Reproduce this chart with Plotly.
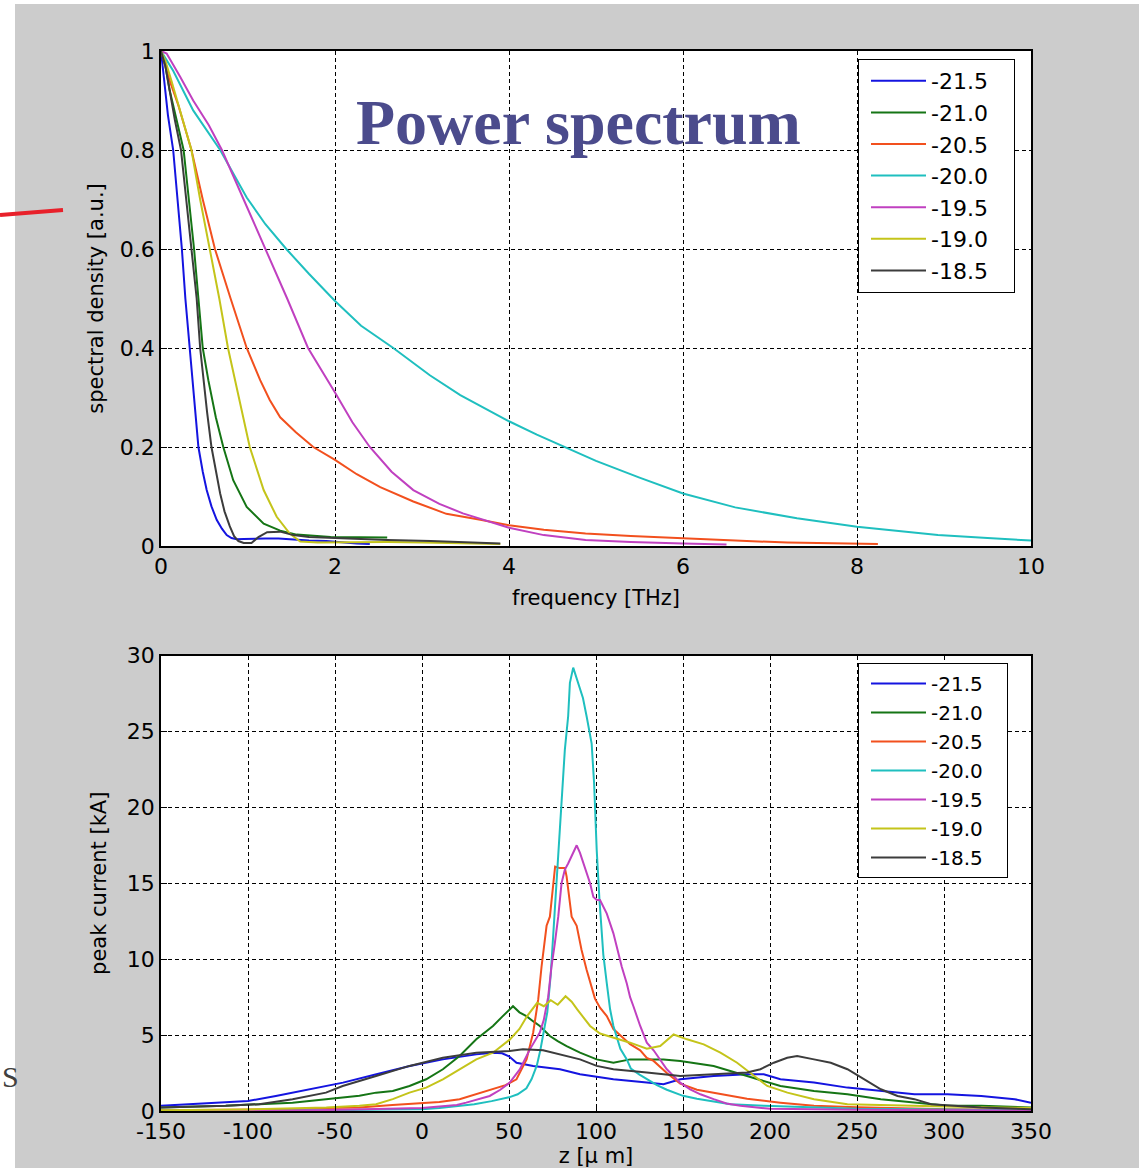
import plotly.graph_objects as go

# ---------------- data: power spectrum (top) ----------------
series_names = ["-21.5", "-21.0", "-20.5", "-20.0", "-19.5", "-19.0", "-18.5"]
series_colors = ["#1414e0", "#157515", "#f2501e", "#1fbfbf", "#c040c0", "#c4c41a", "#3c3c3c"]

f_m215 = [0, 0.04, 0.08, 0.14, 0.19, 0.24, 0.28, 0.33, 0.37, 0.43, 0.48, 0.525, 0.58, 0.64, 0.7, 0.755, 0.81, 0.87, 0.95, 1.07, 1.2, 1.35, 1.5, 1.7, 1.9, 2.1, 2.25, 2.4]
s_m215 = [1, 0.94, 0.87, 0.8, 0.7, 0.6, 0.5, 0.4, 0.335, 0.2, 0.15, 0.113, 0.08, 0.053, 0.035, 0.022, 0.016, 0.0135, 0.014, 0.015, 0.015, 0.015, 0.013, 0.011, 0.01, 0.007, 0.005, 0.004]

f_m210 = [0, 0.05, 0.1, 0.18, 0.26, 0.32, 0.38, 0.43, 0.48, 0.544, 0.63, 0.716, 0.83, 0.985, 1.18, 1.37, 1.56, 1.95, 2.3, 2.6]
s_m210 = [1, 0.97, 0.92, 0.86, 0.8, 0.7, 0.6, 0.5, 0.4, 0.335, 0.26, 0.2, 0.133, 0.079, 0.045, 0.031, 0.023, 0.018, 0.018, 0.017]

f_m205 = [0, 0.05, 0.1, 0.2, 0.35, 0.48, 0.62, 0.8, 0.985, 1.14, 1.25, 1.37, 1.55, 1.75, 2.0, 2.25, 2.52, 2.9, 3.28, 3.67, 4.0, 4.4, 4.88, 5.4, 6.0, 6.6, 7.2, 7.7, 8.24]
s_m205 = [1, 0.97, 0.94, 0.89, 0.8, 0.7, 0.6, 0.5, 0.4, 0.335, 0.295, 0.26, 0.23, 0.2, 0.174, 0.145, 0.119, 0.09, 0.065, 0.053, 0.042, 0.033, 0.025, 0.02, 0.015, 0.011, 0.007, 0.005, 0.004]

f_m200 = [0, 0.14, 0.37, 0.68, 0.985, 1.2, 1.44, 1.7, 2.0, 2.3, 2.67, 3.09, 3.44, 3.9, 4.0, 4.32, 4.64, 5.0, 5.5, 6.0, 6.6, 7.31, 8.0, 8.5, 8.93, 9.5, 10.0]
s_m200 = [1, 0.96, 0.88, 0.8, 0.704, 0.65, 0.6, 0.55, 0.495, 0.445, 0.4, 0.345, 0.305, 0.262, 0.252, 0.225, 0.2, 0.172, 0.138, 0.106, 0.078, 0.056, 0.039, 0.03, 0.022, 0.016, 0.011]

f_m195 = [0, 0.065, 0.22, 0.37, 0.55, 0.7, 0.95, 1.2, 1.45, 1.69, 1.9, 2.0, 2.2, 2.4, 2.65, 2.9, 3.2, 3.47, 4.0, 4.4, 4.88, 5.4, 6.0, 6.5]
s_m195 = [1, 0.995, 0.948, 0.9, 0.85, 0.8, 0.7, 0.6, 0.5, 0.4, 0.34, 0.31, 0.25, 0.2, 0.15, 0.113, 0.085, 0.066, 0.037, 0.022, 0.012, 0.008, 0.005, 0.003]

f_m190 = [0, 0.05, 0.12, 0.2, 0.28, 0.35, 0.45, 0.563, 0.67, 0.77, 0.85, 1.02, 1.18, 1.33, 1.48, 1.6, 1.8, 2.2, 2.6, 3.0, 3.5, 3.9]
s_m190 = [1, 0.98, 0.94, 0.89, 0.84, 0.8, 0.7, 0.6, 0.5, 0.4, 0.335, 0.2, 0.113, 0.059, 0.025, 0.009, 0.007, 0.008, 0.008, 0.007, 0.005, 0.004]

f_m185 = [0, 0.05, 0.1, 0.16, 0.23, 0.29, 0.35, 0.41, 0.45, 0.486, 0.53, 0.58, 0.63, 0.68, 0.73, 0.79, 0.84, 0.89, 0.95, 1.04, 1.12, 1.22, 1.37, 1.52, 1.7, 2.13, 2.6, 3.1, 3.5, 3.9]
s_m185 = [1, 0.97, 0.92, 0.86, 0.8, 0.7, 0.6, 0.5, 0.4, 0.335, 0.27, 0.2, 0.15, 0.106, 0.07, 0.04, 0.02, 0.01, 0.006, 0.006, 0.018, 0.028, 0.029, 0.022, 0.018, 0.015, 0.012, 0.01, 0.008, 0.005]

# ---------------- data: current profile (bottom) ----------------
z_m215 = [-150, -132, -112.8, -100, -84, -64.6, -45.4, -26.2, -7, 12, 31.2, 40.8, 46, 50, 54.3, 63.9, 79.3, 90.8, 110, 129.2, 138.8, 148.4, 167.6, 186.8, 196.4, 206, 225.3, 244.5, 263.7, 283, 302, 321.4, 340.6, 350]
i_m215 = [0.34, 0.45, 0.55, 0.66, 0.99, 1.43, 1.87, 2.42, 2.97, 3.4, 3.73, 3.84, 3.8, 3.6, 3.18, 2.97, 2.75, 2.42, 2.09, 1.87, 1.76, 2.09, 2.3, 2.42, 2.42, 2.09, 1.87, 1.54, 1.32, 1.1, 1.1, 0.99, 0.78, 0.55]

z_m210 = [-150, -112.8, -93.6, -74.4, -55.2, -36, -26.4, -16.8, -7.2, 2.4, 12, 21.6, 31.2, 40.8, 46, 52.3, 56, 60, 64, 67.7, 73.5, 78, 83.1, 90.8, 100.4, 110, 119.6, 129.2, 138.8, 148.4, 167.6, 186.8, 206, 225.3, 244.5, 263.7, 283, 302, 321.4, 350]
i_m210 = [0.23, 0.34, 0.45, 0.55, 0.78, 1.0, 1.21, 1.32, 1.65, 2.09, 2.75, 3.62, 4.72, 5.6, 6.2, 6.9, 6.5, 6.25, 5.9, 5.6, 4.94, 4.6, 4.28, 3.84, 3.4, 3.18, 3.4, 3.4, 3.4, 3.29, 2.96, 2.3, 1.65, 1.32, 1.1, 0.78, 0.55, 0.34, 0.34, 0.23]

z_m205 = [-150, -120, -100, -74, -55, -36, -17, 0, 10, 21.6, 31.2, 40.8, 48, 54.3, 60.1, 63.9, 66.8, 68.7, 71.6, 73.5, 75.4, 76.5, 79, 82.1, 83.1, 84, 86, 88.9, 91.7, 94.6, 97.5, 99.4, 102.3, 106.2, 110, 115, 119.6, 125.4, 129.2, 133.1, 140.7, 148.4, 158, 167.6, 177, 186.8, 206, 225.3, 250, 263.7, 302, 350]
i_m205 = [0.05, 0.08, 0.1, 0.12, 0.2, 0.23, 0.4, 0.5, 0.6, 0.78, 1.1, 1.43, 1.7, 2.09, 3.4, 5.17, 7.35, 9.5, 12.2, 12.8, 15.0, 16.1, 16.0, 16.0, 15.45, 14.6, 12.8, 12.2, 10.6, 9.3, 8.2, 7.4, 6.8, 6.25, 5.4, 4.9, 4.4, 4.0, 3.5, 3.3, 2.5, 1.8, 1.4, 1.2, 1.0, 0.8, 0.55, 0.34, 0.25, 0.22, 0.12, 0.08]

z_m200 = [-150, -100, -50, -20, 0, 10, 20, 30, 40, 45, 50, 55, 60, 63, 66, 68, 70, 72, 74, 76, 78.3, 80.2, 82.1, 84, 85, 86.9, 88.5, 90.8, 92.5, 94.6, 96, 97.5, 98.9, 100.4, 102, 104.2, 106.2, 108.1, 110, 112, 114, 117.7, 120, 125, 129.2, 135, 140.7, 150, 158, 168, 177.3, 196.5, 220, 250, 300, 350]
i_m200 = [0.02, 0.03, 0.05, 0.1, 0.12, 0.2, 0.32, 0.45, 0.65, 0.75, 0.9, 1.1, 1.5, 2.1, 3.0, 4.0, 5.3, 6.5, 9.0, 12.5, 17.2, 20.0, 23.8, 26.0, 28.2, 29.2, 28.6, 27.7, 27.2, 26.0, 25.2, 24.2, 21.6, 17.2, 13.9, 10.3, 8.4, 6.7, 5.6, 4.9, 4.1, 3.4, 2.8, 2.4, 2.1, 1.7, 1.4, 1.0, 0.8, 0.6, 0.45, 0.34, 0.25, 0.15, 0.1, 0.05]

z_m195 = [-150, -100, -60, -40, -20, 0, 10, 20, 25.4, 30, 38.9, 45, 50.4, 56.2, 62, 67.7, 70, 72.5, 74.4, 76.3, 78.3, 80.2, 82.1, 84, 86, 88.9, 90.8, 92.7, 96.6, 98.5, 100.5, 102.3, 106.2, 110, 114.8, 117.7, 119.6, 121.5, 125.4, 129.2, 133.1, 140.7, 148.4, 154.1, 160, 167.6, 175, 183, 200, 250, 300, 350]
i_m195 = [0.02, 0.03, 0.05, 0.1, 0.15, 0.2, 0.3, 0.4, 0.55, 0.7, 0.99, 1.4, 1.87, 2.74, 4.06, 5.17, 6.0, 7.5, 9.5, 11.0, 12.8, 15.0, 15.9, 16.3, 16.8, 17.5, 17.0, 16.3, 15.0, 14.1, 13.9, 13.9, 13.0, 11.7, 9.5, 8.4, 7.5, 6.9, 5.6, 4.5, 4.0, 2.75, 1.87, 1.43, 1.1, 0.78, 0.5, 0.34, 0.15, 0.08, 0.05, 0.03]

z_m190 = [-150, -100, -55, -36, -26.4, -16.8, -7.2, 2.4, 12, 21.6, 31.2, 40.8, 50.4, 56, 60.4, 66.2, 70, 74, 78, 82.5, 86, 89.2, 92, 96.6, 102.3, 110, 119.6, 129.2, 136.9, 144.6, 152.3, 161.9, 171.5, 181.1, 190.7, 198.4, 210, 225.3, 244.5, 283, 320, 350]
i_m190 = [0.05, 0.1, 0.23, 0.34, 0.45, 0.78, 1.21, 1.54, 2.09, 2.75, 3.4, 3.84, 4.7, 5.4, 6.25, 7.12, 6.9, 7.3, 7.0, 7.56, 7.2, 6.69, 6.3, 5.6, 5.1, 4.83, 4.5, 4.1, 4.28, 5.04, 4.72, 4.39, 3.84, 3.18, 2.3, 1.65, 1.21, 0.78, 0.45, 0.34, 0.25, 0.2]

z_m185 = [-150, -112.8, -93.6, -74.4, -55.2, -45.6, -26.4, -7.2, 12, 31.2, 50.4, 58, 69.6, 80, 90.8, 100.4, 110, 129.2, 148.4, 167.6, 186.8, 194.5, 202.2, 209.9, 215.6, 225.3, 234.9, 244.5, 254.1, 263.7, 273.3, 283, 292.6, 321.4, 350]
i_m185 = [0.23, 0.34, 0.45, 0.78, 1.21, 1.65, 2.3, 2.97, 3.51, 3.84, 3.95, 4.06, 4.0, 3.7, 3.4, 2.97, 2.75, 2.53, 2.31, 2.42, 2.53, 2.75, 3.18, 3.51, 3.62, 3.4, 3.18, 2.75, 2.09, 1.43, 0.99, 0.78, 0.45, 0.23, 0.12]

freq_x = [f_m215, f_m210, f_m205, f_m200, f_m195, f_m190, f_m185]
spec_y = [s_m215, s_m210, s_m205, s_m200, s_m195, s_m190, s_m185]
pos_z = [z_m215, z_m210, z_m205, z_m200, z_m195, z_m190, z_m185]
cur_y = [i_m215, i_m210, i_m205, i_m200, i_m195, i_m190, i_m185]

x_ticks_top = [0, 2, 4, 6, 8, 10]
x_ticktext_top = ["0", "2", "4", "6", "8", "10"]
y_ticks_top = [0, 0.2, 0.4, 0.6, 0.8, 1]
y_ticktext_top = ["0", "0.2", "0.4", "0.6", "0.8", "1"]
x_ticks_bot = [-150, -100, -50, 0, 50, 100, 150, 200, 250, 300, 350]
x_ticktext_bot = ["-150", "-100", "-50", "0", "50", "100", "150", "200", "250", "300", "350"]
y_ticks_bot = [0, 5, 10, 15, 20, 25, 30]
y_ticktext_bot = ["0", "5", "10", "15", "20", "25", "30"]

# ---------------- figure ----------------
W, H = 1139, 1168
ML, MR, MT, MB = 161, 108, 51, 57
PW, PH = W - ML - MR, H - MT - MB


def px_x(px):
    return (px - ML) / PW


def px_y(py):
    return (H - MB - py) / PH


SANS = "DejaVu Sans, Verdana, sans-serif"
PAD = "\u00a0\u00a0\u00a0"  # keeps the legend box as wide as the original
fig = go.Figure()

for k in range(7):
    fig.add_trace(go.Scatter(
        x=freq_x[k], y=spec_y[k], mode="lines", name=series_names[k] + PAD,
        line=dict(color=series_colors[k], width=2),
        xaxis="x", yaxis="y", legend="legend"))
for k in range(7):
    fig.add_trace(go.Scatter(
        x=pos_z[k], y=cur_y[k], mode="lines", name=series_names[k] + PAD,
        line=dict(color=series_colors[k], width=2),
        xaxis="x2", yaxis="y2", legend="legend2"))

axis_common = dict(
    showline=True, mirror=True, linecolor="black", linewidth=1.5,
    showgrid=True, gridcolor="black", gridwidth=1, griddash="4px,3px",
    zeroline=False, ticks="inside", ticklen=6, tickcolor="black",
    automargin=False,
    tickfont=dict(family=SANS, size=22, color="black"),
    title_font=dict(family=SANS, size=21, color="black"),
)

fig.update_layout(
    width=W, height=H,
    margin=dict(l=ML, r=MR, t=MT, b=MB, autoexpand=False),
    paper_bgcolor="#cccccc", plot_bgcolor="white",
    xaxis=dict(domain=[0, 1], anchor="y", range=[0, 10], tickvals=x_ticks_top,
               ticktext=x_ticktext_top,
               title=dict(text="frequency [THz]", standoff=12), **axis_common),
    yaxis=dict(domain=[px_y(546), 1], anchor="x", range=[0, 1], tickvals=y_ticks_top,
               ticktext=y_ticktext_top,
               title=dict(text="spectral density [a.u.]", standoff=10), **axis_common),
    xaxis2=dict(domain=[0, 1], anchor="y2", range=[-150, 350], tickvals=x_ticks_bot,
                ticktext=x_ticktext_bot,
                title=dict(text="z [\u03bc m]", standoff=9), **axis_common),
    yaxis2=dict(domain=[0, px_y(655.5)], anchor="x2", range=[0, 30], tickvals=y_ticks_bot,
                ticktext=y_ticktext_bot,
                title=dict(text="peak current [kA]", standoff=14), **axis_common),
    legend=dict(x=px_x(858), y=px_y(59), xanchor="left", yanchor="top",
                bgcolor="white", bordercolor="black", borderwidth=1,
                font=dict(family=SANS, size=22, color="black"),
                itemwidth=55, indentation=7, tracegroupgap=0),
    legend2=dict(x=px_x(858), y=px_y(663), xanchor="left", yanchor="top",
                 bgcolor="white", bordercolor="black", borderwidth=1,
                 font=dict(family=SANS, size=20, color="black"),
                 itemwidth=55, indentation=7, tracegroupgap=0),
    showlegend=True,
)

# white page strips outside the grey figure window, and the red pointer line
fig.add_shape(type="rect", xref="paper", yref="paper", layer="below",
              x0=px_x(-5), x1=px_x(15), y0=px_y(H + 5), y1=px_y(-5),
              fillcolor="white", line=dict(width=0))
fig.add_shape(type="rect", xref="paper", yref="paper", layer="below",
              x0=px_x(-5), x1=px_x(W + 5), y0=px_y(4), y1=px_y(-5),
              fillcolor="white", line=dict(width=0))
fig.add_shape(type="line", xref="paper", yref="paper",
              x0=px_x(0), y0=px_y(215), x1=px_x(63), y1=px_y(210),
              line=dict(color="#e8202a", width=4))

fig.add_annotation(text="<b>Power spectrum</b>", xref="paper", yref="paper",
                   x=px_x(578), y=px_y(122), xanchor="center", yanchor="middle",
                   showarrow=False,
                   font=dict(family="Liberation Serif, Times New Roman, serif", size=64,
                             color="#4b4b8c"))
fig.add_annotation(text="S", xref="paper", yref="paper",
                   x=px_x(0), y=px_y(1076), xanchor="left", yanchor="middle",
                   showarrow=False,
                   font=dict(family="Liberation Serif, Times New Roman, serif", size=30,
                             color="#404040"))

fig.write_html("out.html")
